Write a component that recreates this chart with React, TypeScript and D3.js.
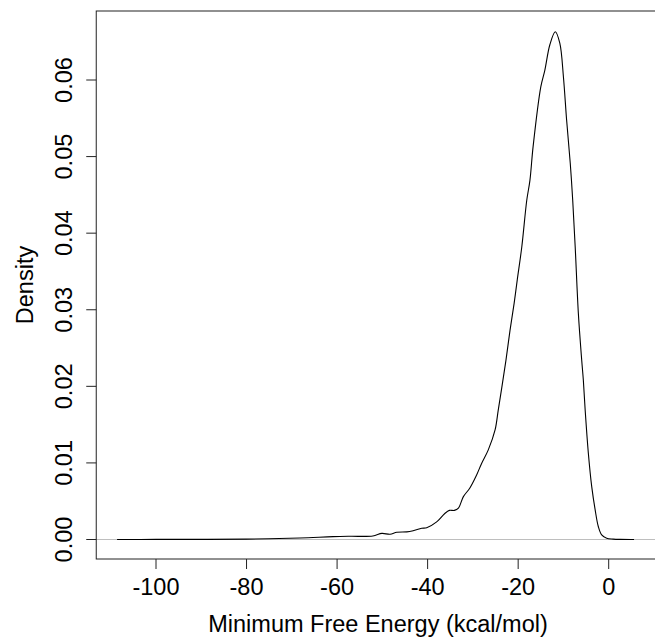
import React from "react";
import * as d3 from "d3";

const energy = [
  -108.6, -100, -90.3, -80.1, -68.2, -60.9, -57.1, -52.1, -50.1, -48.3, -46.8, -44.6, -43.2,
  -41.3, -40.2, -38.0, -36.2, -35.2, -34.1, -33.2, -32.1, -30.7, -29.2, -28.1, -26.6, -25.1,
  -24.4, -23.6, -22.7, -21.8, -20.9, -20.2, -19.2, -18.1, -17.4, -16.7, -15.0, -14.1, -13.0,
  -11.8, -10.8, -10.0, -9.3, -8.5, -7.95, -7.4, -6.7, -5.96, -5.6, -5.2, -4.5, -3.75, -3.0,
  -2.3, -1.55, -0.44, 1.0, 2.5, 5.6,
];
const density = [
  0.0, 0.00001, 0.00002, 0.00005, 0.0002, 0.00037, 0.00042, 0.00046, 0.0008, 0.00068, 0.00094,
  0.001, 0.00115, 0.00146, 0.00154, 0.0023, 0.0034, 0.0038, 0.0038, 0.0041, 0.0056, 0.0067,
  0.0084, 0.0099, 0.0117, 0.0143, 0.0169, 0.0199, 0.0234, 0.0273, 0.0308, 0.0339, 0.0382,
  0.0443, 0.0469, 0.0513, 0.0591, 0.0613, 0.0646, 0.0663, 0.0648, 0.0604, 0.0548, 0.0492,
  0.0443, 0.0382, 0.0295, 0.0234, 0.0208, 0.0169, 0.0113, 0.0069, 0.0039, 0.0017, 0.0006,
  0.00016, 0.00005, 0.00001, 0.0,
];
const xTicks = [-100, -80, -60, -40, -20, 0];
const yTicks = [0, 0.01, 0.02, 0.03, 0.04, 0.05, 0.06];
const xTitle = "Minimum Free Energy (kcal/mol)";
const yTitle = "Density";

export default function App() {
  const x = d3.scaleLinear().domain([-100, 0]).range([156, 608.7]);
  const y = d3.scaleLinear().domain([0, 0.06]).range([539.5, 80]);
  const left = x(-113.2);
  const right = 658;
  const top = 11;
  const bottom = 559;
  const pts = energy.map((e, i) => [e, density[i]] as [number, number]);
  const line = d3
    .line<[number, number]>()
    .x((d) => x(d[0]))
    .y((d) => y(d[1]))
    .curve(d3.curveCatmullRom.alpha(0.5));
  const font = "'Liberation Sans', Arial, Helvetica, sans-serif";
  const fs = 23.5;
  return (
    <svg
      width={655}
      height={639}
      style={{ position: "absolute", left: 0, top: 0, background: "#fff" }}
      fontFamily={font}
    >
      <rect x={0} y={0} width={655} height={639} fill="#fff" />
      <line x1={left} x2={right} y1={y(0)} y2={y(0)} stroke="#bebebe" strokeWidth={1} />
      <path d={line(pts) || ""} fill="none" stroke="#000" strokeWidth={1.1} />
      <rect x={left} y={top} width={right - left} height={bottom - top} fill="none" stroke="#222" strokeWidth={1} />
      {xTicks.map((t) => (
        <g key={"x" + t}>
          <line x1={x(t)} x2={x(t)} y1={bottom} y2={bottom + 10} stroke="#222" />
          <text x={x(t)} y={595} textAnchor="middle" fontSize={fs} fill="#000">
            {t}
          </text>
        </g>
      ))}
      {yTicks.map((t) => (
        <g key={"y" + t}>
          <line x1={left - 10} x2={left} y1={y(t)} y2={y(t)} stroke="#222" />
          <text
            transform={`translate(72,${y(t)}) rotate(-90)`}
            textAnchor="middle"
            fontSize={fs}
            fill="#000"
          >
            {t.toFixed(2)}
          </text>
        </g>
      ))}
      <text x={378} y={631.5} textAnchor="middle" fontSize={fs} fill="#000">
        {xTitle}
      </text>
      <text
        transform={`translate(33,${(top + bottom) / 2}) rotate(-90)`}
        textAnchor="middle"
        fontSize={fs}
        fill="#000"
      >
        {yTitle}
      </text>
    </svg>
  );
}
